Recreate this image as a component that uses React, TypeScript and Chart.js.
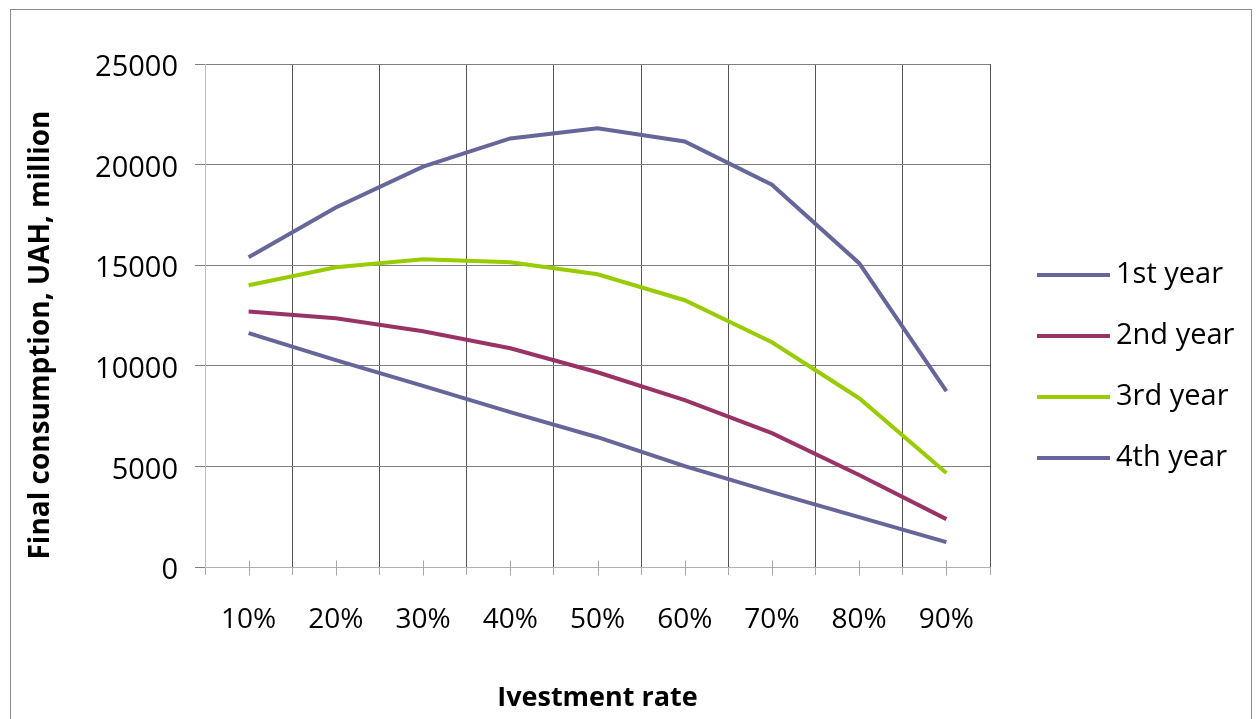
import React, { useEffect, useRef } from "react";
import { Chart, registerables } from "chart.js";

Chart.register(...registerables);

// Investment rate categories
const rates = ["10%", "20%", "30%", "40%", "50%", "60%", "70%", "80%", "90%"];

// Final consumption by year, UAH million
const year1 = [15390, 17870, 19900, 21300, 21800, 21150, 19000, 15100, 8740];
const year2 = [12700, 12360, 11720, 10870, 9680, 8290, 6650, 4570, 2380];
const year3 = [14000, 14900, 15300, 15150, 14550, 13260, 11170, 8390, 4670];
const year4 = [11620, 10280, 9000, 7700, 6450, 5010, 3720, 2480, 1240];

const seriesNames = ["1st year", "2nd year", "3rd year", "4th year"];
const seriesColors = ["#66669a", "#993366", "#99cc00", "#66669a"];

const yMin = 0;
const yMax = 25000;
const yStep = 5000;

const xTitle = "Ivestment rate";
const yTitle = "Final consumption, UAH, million";

const FONT = "'Open Sans', Lato, sans-serif";

// Outer frame around the whole chart
const framePlugin = {
  id: "frame",
  beforeDraw(chart: any) {
    const { ctx } = chart;
    ctx.save();
    ctx.strokeStyle = "#8c8c8c";
    ctx.lineWidth = 1;
    ctx.strokeRect(10.5, 9.5, 1241, 800);
    ctx.restore();
  },
};

// Small ticks at each category centre on the x axis
const centerTicksPlugin = {
  id: "centerTicks",
  afterDraw(chart: any) {
    const { ctx } = chart;
    const xs = chart.scales.x;
    const base = Math.round(chart.chartArea.bottom) + 0.5;
    ctx.save();
    ctx.strokeStyle = "#a6a6a6";
    ctx.lineWidth = 1;
    chart.data.labels.forEach((_: any, i: number) => {
      const x = Math.round(xs.getPixelForValue(i)) + 0.5;
      ctx.beginPath();
      ctx.moveTo(x, base - 7);
      ctx.lineTo(x, base + 8);
      ctx.stroke();
    });
    ctx.restore();
  },
};

// Rotated y axis title
const yTitlePlugin = {
  id: "yTitle",
  afterDraw(chart: any) {
    const { ctx } = chart;
    ctx.save();
    ctx.translate(41, 335);
    ctx.rotate(-Math.PI / 2);
    ctx.font = `bold 28px ${FONT}`;
    ctx.fillStyle = "#000";
    ctx.textAlign = "center";
    ctx.textBaseline = "middle";
    ctx.fillText(yTitle, 0, 0);
    ctx.restore();
  },
};

// Legend to the right of the plot
const sideLegendPlugin = {
  id: "sideLegend",
  afterDraw(chart: any) {
    const { ctx } = chart;
    ctx.save();
    ctx.font = `29px ${FONT}`;
    ctx.textBaseline = "middle";
    ctx.textAlign = "left";
    chart.data.datasets.forEach((ds: any, i: number) => {
      const y = 275 + i * 61;
      ctx.strokeStyle = ds.borderColor;
      ctx.lineWidth = 4;
      ctx.beginPath();
      ctx.moveTo(1037, y);
      ctx.lineTo(1110, y);
      ctx.stroke();
      ctx.fillStyle = "#000";
      ctx.fillText(ds.label, 1116, y);
    });
    ctx.restore();
  },
};

export default function App() {
  const canvasRef = useRef<HTMLCanvasElement | null>(null);

  useEffect(() => {
    const canvas = canvasRef.current;
    if (!canvas) return;
    const series = [year1, year2, year3, year4];
    const chart = new Chart(canvas, {
      type: "line",
      data: {
        labels: rates,
        datasets: series.map((values, i) => ({
          label: seriesNames[i],
          data: values,
          borderColor: seriesColors[i],
          backgroundColor: seriesColors[i],
          borderWidth: 4,
          pointRadius: 0,
          pointHoverRadius: 0,
          tension: 0,
          fill: false,
        })),
      },
      options: {
        responsive: false,
        animation: false,
        layout: { padding: { top: 64, right: 269, left: 0, bottom: 0 } },
        plugins: {
          legend: { display: false },
          tooltip: { enabled: false },
        },
        scales: {
          x: {
            type: "category",
            offset: true,
            afterFit: (scale: any) => {
              scale.height = 152;
            },
            grid: {
              offset: true,
              color: (c: any) => (c.index === 0 ? "#c0c0c0" : "#555555"),
              tickColor: "#a6a6a6",
              tickLength: 8,
              lineWidth: 1,
            },
            border: { color: "#b0b0b0" },
            ticks: {
              color: "#000",
              font: { family: FONT, size: 28 },
              padding: 28,
              maxRotation: 0,
              autoSkip: false,
            },
            title: {
              display: true,
              text: xTitle,
              color: "#000",
              font: { family: FONT, size: 27, weight: "bold" },
              padding: { top: 0, bottom: 4 },
            },
          },
          y: {
            min: yMin,
            max: yMax,
            afterFit: (scale: any) => {
              scale.width = 205;
            },
            grid: {
              color: (c: any) => (c.index === 0 ? "#b0b0b0" : "#808080"),
              tickColor: "#808080",
              tickLength: 10,
              lineWidth: 1,
            },
            border: { color: "#c0c0c0" },
            ticks: {
              stepSize: yStep,
              color: "#000",
              font: { family: FONT, size: 29 },
              padding: 17,
              labelOffset: 4,
              callback: (value: any) => String(value),
            },
          },
        },
      },
      plugins: [framePlugin, centerTicksPlugin, yTitlePlugin, sideLegendPlugin],
    });
    return () => chart.destroy();
  }, []);

  return (
    <div
      style={{
        position: "fixed",
        left: 0,
        top: 0,
        width: 1259,
        height: 719,
        background: "#fff",
      }}
    >
      <canvas
        ref={canvasRef}
        width={1259}
        height={719}
        style={{ width: 1259, height: 719, display: "block" }}
      />
    </div>
  );
}
